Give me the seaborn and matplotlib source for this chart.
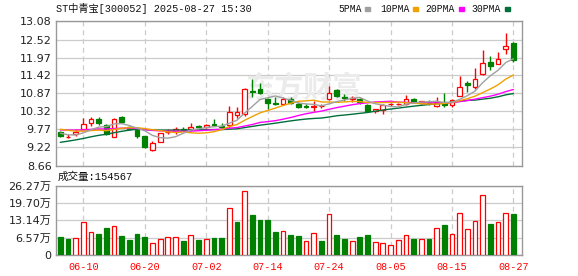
import numpy as np
import pandas as pd
import matplotlib
matplotlib.use("Agg")
import matplotlib.pyplot as plt
from matplotlib.patches import Rectangle
import seaborn as sns

# ---------------- data ----------------
title = "ST中青宝[300052] 2025-08-27 15:30"
start_date = "2025-06-05"
end_date = "2025-08-27"

# closes before the first shown day (needed to warm up the moving averages)
prior_closes = [8.45, 8.52, 8.60, 8.55, 8.62, 8.66, 8.63, 8.70, 8.68, 8.69,
                9.60, 9.72, 9.80, 9.75, 9.68, 9.70, 9.78, 9.74, 9.76, 9.77,
                9.85, 9.92, 9.95, 9.90, 9.83, 9.78, 9.70, 9.62, 9.60]

opens = [9.70, 9.53, 9.64, 9.77, 9.95, 10.10, 9.91, 9.54, 10.14, 9.84,
         9.75, 9.55, 9.15, 9.39, 9.68, 9.72, 9.78, 9.77, 9.86, 9.83,
         9.93, 9.86, 9.91, 10.22, 10.25, 10.95, 11.02, 10.69, 10.59, 10.54,
         10.69, 10.56, 10.49, 10.46, 10.47, 10.71, 10.96, 10.76, 10.70, 10.71,
         10.51, 10.33, 10.36, 10.53, 10.54, 10.55, 10.69, 10.58, 10.62, 10.48,
         10.62, 10.50, 10.80, 11.20, 11.06, 11.47, 11.84, 11.76, 12.24, 12.40]
highs = [9.73, 9.62, 9.77, 10.11, 10.15, 10.16, 9.94, 10.11, 10.17, 9.87,
         9.85, 9.57, 9.40, 9.67, 9.77, 9.85, 9.84, 9.97, 9.89, 9.93,
         10.07, 9.97, 10.49, 10.46, 11.04, 11.30, 11.20, 10.74, 10.77, 10.77,
         10.75, 10.60, 10.54, 10.63, 10.54, 11.09, 10.99, 10.84, 10.78, 10.73,
         10.53, 10.40, 10.55, 10.57, 10.58, 10.81, 10.74, 10.65, 10.66, 10.77,
         10.89, 10.69, 11.40, 11.25, 11.65, 12.21, 12.01, 12.14, 12.72, 12.44]
lows = [9.52, 9.50, 9.57, 9.74, 9.87, 9.91, 9.60, 9.52, 9.97, 9.74,
        9.49, 9.21, 9.09, 9.38, 9.62, 9.62, 9.71, 9.72, 9.80, 9.80,
        9.87, 9.79, 9.82, 10.13, 10.18, 10.77, 10.85, 10.38, 10.50, 10.52,
        10.56, 10.42, 10.41, 10.33, 10.42, 10.67, 10.76, 10.64, 10.62, 10.53,
        10.30, 10.28, 10.25, 10.49, 10.50, 10.50, 10.58, 10.55, 10.50, 10.46,
        10.46, 10.46, 10.80, 10.91, 10.99, 11.43, 11.60, 11.76, 12.09, 11.83]
closes = [9.55, 9.53, 9.68, 9.94, 10.08, 9.95, 9.62, 10.08, 9.99, 9.78,
          9.55, 9.23, 9.36, 9.65, 9.70, 9.77, 9.76, 9.85, 9.84, 9.90,
          9.89, 9.84, 10.31, 10.29, 11.01, 10.91, 10.89, 10.59, 10.56, 10.69,
          10.58, 10.45, 10.46, 10.48, 10.47, 10.89, 10.79, 10.72, 10.73, 10.61,
          10.33, 10.38, 10.50, 10.53, 10.54, 10.71, 10.61, 10.63, 10.58, 10.62,
          10.51, 10.66, 11.07, 11.14, 11.32, 11.81, 11.71, 11.91, 12.33, 11.89]
volumes = [68200, 61900, 63200, 123800, 85900, 79600, 101000, 108600, 70700, 56800,
           79600, 68200, 44200, 59400, 66900, 66900, 53100, 74500, 56800, 59400,
           64400, 64400, 176800, 125000, 241200, 151600, 132600, 132600, 87200, 89700,
           75800, 72000, 53100, 83400, 53100, 155400, 75800, 60600, 53100, 68200,
           75800, 49300, 45500, 37900, 56800, 75800, 60600, 60600, 60600, 102300,
           113700, 79600, 159100, 98500, 128800, 227300, 117500, 125000, 159100, 154567]

ma_names = ["5PMA", "10PMA", "20PMA", "30PMA"]
ma_windows = [5, 10, 20, 30]
ma_colors = ["#a0a0a0", "#f0a000", "#ff00ff", "#006f3c"]

price_tick_labels = ["8.66", "9.22", "9.77", "10.32", "10.87", "11.42", "11.97", "12.52", "13.08"]
vol_tick_values = [0, 65700, 131400, 197000, 262700]
vol_tick_labels = ["0", "6.57万", "13.14万", "19.70万", "26.27万"]
date_tick_labels = ["06-10", "06-20", "07-02", "07-14", "07-24", "08-05", "08-15", "08-27"]
vol_title = "成交量:154567"

RED = "#ff0000"
GREEN = "#008000"
GRID = "#cccccc"
SPINE = "#999999"
TXT = "#222222"

# ---------------- setup ----------------
sns.set_style("white")
plt.rcParams["font.family"] = ["DejaVu Sans", "Noto Sans CJK SC"]
MONO = ["Liberation Mono", "Noto Sans CJK SC"]

W, H = 578, 276
fig = plt.figure(figsize=(W / 100, H / 100), dpi=100)
L, R = 55.7, 522
ax = fig.add_axes([L / W, 1 - 165.5 / H, (R - L) / W, (165.5 - 21.3) / H])
axv = fig.add_axes([L / W, 1 - 255 / H, (R - L) / W, (255 - 185.7) / H])

n = len(closes)
idx = np.arange(n)
o = np.array(opens); c = np.array(closes); h = np.array(highs); l = np.array(lows)
v = np.array(volumes)
dates = pd.bdate_range(start_date, end_date).strftime("%m-%d").tolist()
tick_pos = [dates.index(d) for d in date_tick_labels]

# ---------------- candles ----------------
up = c >= o
ccol = np.where(up, RED, GREEN)
ax.vlines(idx, l, h, colors=ccol, lw=1.0, zorder=3)
ax.bar(idx, np.abs(c - o), bottom=np.minimum(o, c), width=0.62,
       color=np.where(up, "white", GREEN), edgecolor=ccol, linewidth=0.9, zorder=4)

# moving averages
all_c = pd.Series(prior_closes + closes, dtype=float)
frames = []
for name, win in zip(ma_names, ma_windows):
    vals = all_c.rolling(win).mean().iloc[-n:].to_numpy()
    frames.append(pd.DataFrame({"idx": idx, "value": vals, "ma": name}))
ma_df = pd.concat(frames, ignore_index=True)
sns.lineplot(data=ma_df, x="idx", y="value", hue="ma", hue_order=ma_names[::-1],
             palette=dict(zip(ma_names, ma_colors)), legend=False, ax=ax,
             linewidth=1.0, zorder=5)

ax.set_xlim(-0.6, n + 0.12)
ax.set_ylim(float(price_tick_labels[0]), float(price_tick_labels[-1]))
ax.set_yticks([float(t) for t in price_tick_labels])
ax.set_yticklabels(price_tick_labels)
ax.set_xticks(tick_pos)
ax.tick_params(axis="x", labelbottom=False, length=0)
ax.tick_params(axis="y", length=0, pad=3, labelsize=8, labelcolor=TXT)
ax.set_xlabel(""); ax.set_ylabel("")
ax.yaxis.grid(True, color=GRID, lw=0.9, ls="-", zorder=0)
ax.xaxis.grid(True, color=GRID, lw=0.9, ls=(0, (4, 3)), zorder=0)
ax.set_axisbelow(True)

# watermark
ax.text(245 / W, 1 - 88 / H, "东方财富", transform=fig.transFigure, fontsize=21,
        color="#ebebeb", va="center", ha="left", family=["Noto Sans CJK SC"],
        fontweight="bold", zorder=1)

# ---------------- volume ----------------
prev_c = np.concatenate([[prior_closes[-1]], c[:-1]])
vup = c >= prev_c
vcol = np.where(vup, RED, GREEN)
axv.bar(idx, v, width=0.62, color=np.where(vup, "white", GREEN), edgecolor=vcol,
        linewidth=0.9, zorder=3)
axv.set_xlim(-0.6, n + 0.12)
axv.set_ylim(vol_tick_values[0], vol_tick_values[-1])
axv.set_yticks(vol_tick_values)
axv.set_yticklabels(vol_tick_labels)
axv.set_xticks(tick_pos)
axv.set_xticklabels(date_tick_labels)
for t in axv.get_xticklabels():
    t.set_family(MONO)
axv.tick_params(axis="x", length=0, pad=5, labelsize=7.3, labelcolor=RED)
axv.tick_params(axis="y", length=0, pad=3, labelsize=8, labelcolor=TXT)
axv.yaxis.grid(True, color=GRID, lw=0.9, ls="-", zorder=0)
axv.xaxis.grid(True, color=GRID, lw=0.9, ls=(0, (4, 3)), zorder=0)
axv.set_axisbelow(True)

for a in (ax, axv):
    for s in a.spines.values():
        s.set_visible(True)
        s.set_color(SPINE)
        s.set_linewidth(1.0)

# ---------------- header texts ----------------
fig.text(56 / W, 1 - 8.5 / H, title, family=MONO, fontsize=7.3, color="#111111",
         va="center", ha="left")
leg_text_x = [338.3, 380, 425, 471.7]
leg_box_x = [365, 413, 459, 505]
for name, col, tx, bx in zip(ma_names, ma_colors, leg_text_x, leg_box_x):
    fig.text(tx / W, 1 - 8.5 / H, name, family=MONO, fontsize=7, color="#111111",
             va="center", ha="left")
    fig.patches.append(Rectangle((bx / W, 1 - 10.5 / H), 5 / W, 4 / H,
                                 transform=fig.transFigure, color=col, figure=fig))
fig.text(58 / W, 1 - 176.7 / H, vol_title, family=MONO, fontsize=7.6, color="#111111",
         va="center", ha="left")

fig.savefig("out.png", dpi=100)
